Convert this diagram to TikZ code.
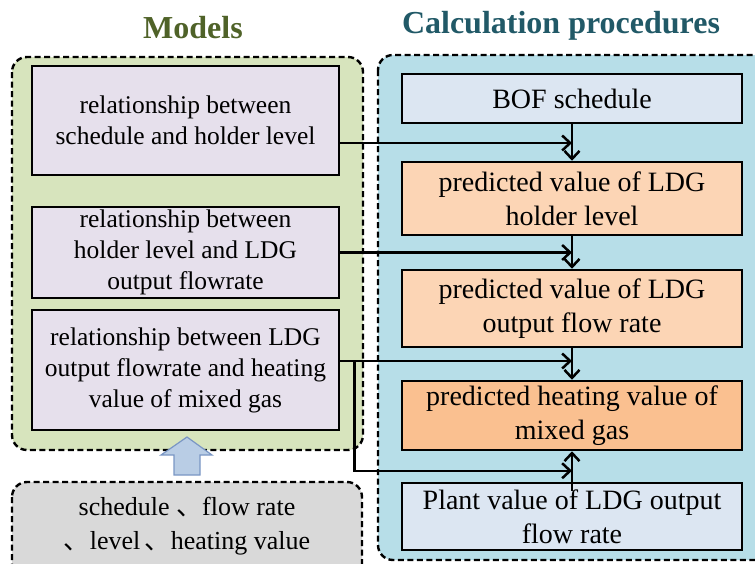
\documentclass[tikz,border=0pt]{standalone}
\usepackage{fontspec}
\setmainfont{Liberation Serif}
\newfontfamily\cjk{Noto Sans CJK SC}
\usetikzlibrary{arrows.meta}
\definecolor{panelgreen}{HTML}{D7E4BD}
\definecolor{panelblue}{HTML}{B7DEE8}
\definecolor{panelgray}{HTML}{D9D9D9}
\definecolor{lavender}{HTML}{E6E0EC}
\definecolor{paleblue}{HTML}{DCE6F2}
\definecolor{peach}{HTML}{FCD5B5}
\definecolor{apricot}{HTML}{FAC090}
\definecolor{olivetitle}{HTML}{4F6228}
\definecolor{tealtitle}{HTML}{215967}
\definecolor{blockfill}{HTML}{B9CDE5}
\definecolor{blockline}{HTML}{7A96C4}
\tikzset{
  panel/.style={draw, line width=2.4pt, dash pattern=on 6pt off 3.5pt, rounded corners=15pt},
  model/.style={draw, line width=2.5pt, fill=lavender, minimum width=307pt, align=center,
    inner sep=0pt, font=\fontsize{25.5}{31}\selectfont},
  proc/.style={draw, line width=2.5pt, minimum width=340pt, align=center,
    inner sep=0pt, font=\fontsize{28}{34}\selectfont},
  title/.style={font=\fontsize{32}{38}\selectfont\bfseries},
  arr/.style={line width=2.5pt, -{Straight Barb[length=8pt,width=15pt]}},
}
\begin{document}
\begin{tikzpicture}[x=1pt,y=-1pt]
\useasboundingbox (0,0) rectangle (755,563);
\clip (0,0) rectangle (755,563);

% titles
\node[title, text=olivetitle] (tm) at (193,28) {Models};
\node[title, text=tealtitle] (tc) at (561,26) {Calculation procedures};

% background panels
\draw[panel, fill=panelgreen] (12,57) rectangle (363,450);
\draw[panel, fill=panelblue] (378,55) rectangle (790,560);
\draw[panel, fill=panelgray] (12,482) rectangle (362,600);

% model boxes
\node[model, minimum height=109pt] (m1) at (185.5,120.5)
  {relationship between\\schedule and holder level};
\node[model, minimum height=91pt] (m2) at (185.5,252.5)
  {relationship between\\holder level and LDG\\output flowrate};
\node[model, minimum height=120pt] (m3) at (185.5,370)
  {relationship between LDG\\output flowrate and heating\\value of mixed gas};

% calculation boxes
\node[proc, fill=paleblue, minimum height=49pt] (bof) at (572,98.5) {BOF schedule};
\node[proc, fill=peach, minimum height=73pt] (p1) at (572,198.5)
  {predicted value of LDG\\holder level};
\node[proc, fill=peach, minimum height=77pt] (p2) at (572,308.5)
  {predicted value of LDG\\output flow rate};
\node[proc, fill=apricot, minimum height=69pt] (p3) at (572,415.5)
  {predicted heating value of\\mixed gas};
\node[proc, fill=paleblue, minimum height=67pt] (plant) at (572,516.5)
  {Plant value of LDG output\\flow rate};

% input data
\node[font=\fontsize{26}{34}\selectfont, align=center] (data) at (187,526)
  {schedule {\cjk 、}flow rate\\{\cjk 、}level\,{\cjk 、}heating value};

% connectors
\coordinate (a1) at ([yshift=-22.5pt]m1.east);
\coordinate (a3) at ([yshift=9pt]m3.east);
\draw[arr] (a1) -- (a1 -| bof.south);
\draw[arr] (bof.south) -- (p1.north);
\draw[arr] (m2.east) -- (m2.east -| p1.south);
\draw[arr] (p1.south) -- (p2.north);
\draw[arr] (a3) -- (a3 -| p2.south);
\draw[arr] (p2.south) -- (p3.north);
\draw[arr] ([xshift=14pt]a3) |- ([yshift=11pt]plant.north);
\draw[arr] ([yshift=-9pt]plant.north) -- (p3.south);

% block arrow from the data into the models
\draw[line width=1.2pt, draw=blockline, fill=blockfill]
  (174,475) -- (174,455) -- (161,455) -- (187,437) -- (212,455)
  -- (200,455) -- (200,475) -- cycle;
\end{tikzpicture}
\end{document}
